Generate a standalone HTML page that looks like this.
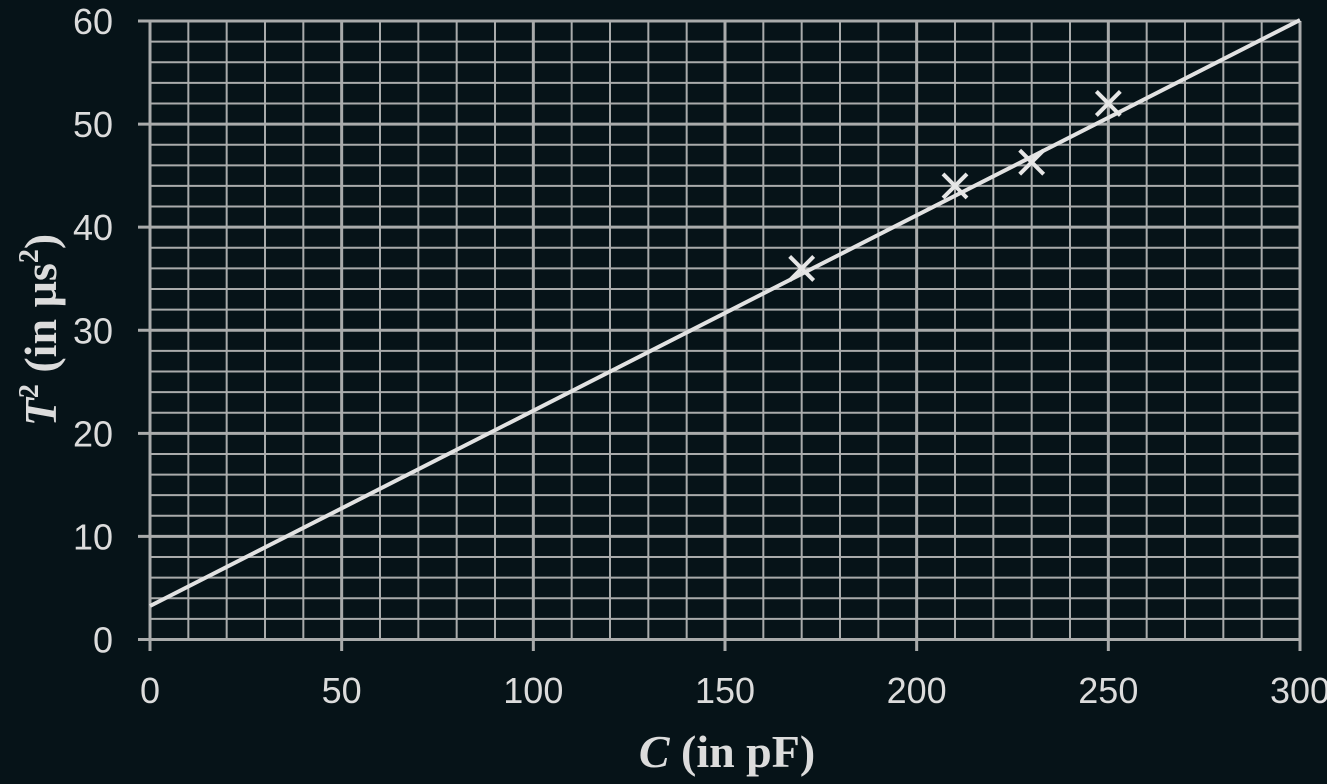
<!DOCTYPE html>
<html><head><meta charset="utf-8"><style>
html,body{margin:0;padding:0;background:#061318;}
svg{display:block}
</style></head><body>
<svg id="s" width="1327" height="784" xmlns="http://www.w3.org/2000/svg">
<rect width="1327" height="784" fill="#061318"/>
<g id="grid" stroke="#a9abab" stroke-width="2"></g>
<line x1="150" y1="606" x2="1300" y2="20" stroke="#e2e2e2" stroke-width="4"/>
<g id="pts" stroke="#e6e6e6" stroke-width="4"></g>
<g id="lbl" fill="#dcdcdc" font-family="Liberation Sans, sans-serif" font-size="36"></g>
<text x="727" y="767" text-anchor="middle" fill="#dcdcdc" font-family="Liberation Serif, serif" font-weight="bold" font-size="46"><tspan font-style="italic">C</tspan> (in pF)</text>
<text transform="translate(56,330) rotate(-90)" text-anchor="middle" fill="#dcdcdc" font-family="Liberation Serif, serif" font-weight="bold" font-size="46"><tspan font-style="italic">T</tspan><tspan font-size="28" dy="-18">2</tspan><tspan dy="18"> (in µs</tspan><tspan font-size="28" dy="-18">2</tspan><tspan dy="18">)</tspan></text>
</svg>
<script>
var ns="http://www.w3.org/2000/svg";
function X(v){return 150+v*1150/300;}
function Y(v){return 639.5-v*618.5/60;}
var g=document.getElementById('grid'),l=document.getElementById('lbl'),p=document.getElementById('pts');
function ln(par,x1,y1,x2,y2,w){var e=document.createElementNS(ns,'line');e.setAttribute('x1',x1);e.setAttribute('y1',y1);e.setAttribute('x2',x2);e.setAttribute('y2',y2);if(w)e.setAttribute('stroke-width',w);par.appendChild(e);}
function tx(x,y,s,a){var e=document.createElementNS(ns,'text');e.setAttribute('x',x);e.setAttribute('y',y);e.setAttribute('text-anchor',a);e.textContent=s;l.appendChild(e);}
for(var v=0;v<=300;v+=10){var x=X(v);var maj=v%50==0;ln(g,x,Y(60),x,maj?651:Y(0),maj?3:2);if(maj)tx(x,703,v,'middle');}
for(var v=0;v<=60;v+=2){var y=Y(v);var maj=v%10==0;ln(g,maj?138:150,y,1300,y,maj?3:2);if(maj)tx(113,y+13,v,'end');}
[[170,36],[210,44],[230,46.3],[250,52]].forEach(function(d){var x=X(d[0]),y=Y(d[1]),r=12;ln(p,x-r,y-r,x+r,y+r);ln(p,x-r,y+r,x+r,y-r);});
</script>
</body></html>
